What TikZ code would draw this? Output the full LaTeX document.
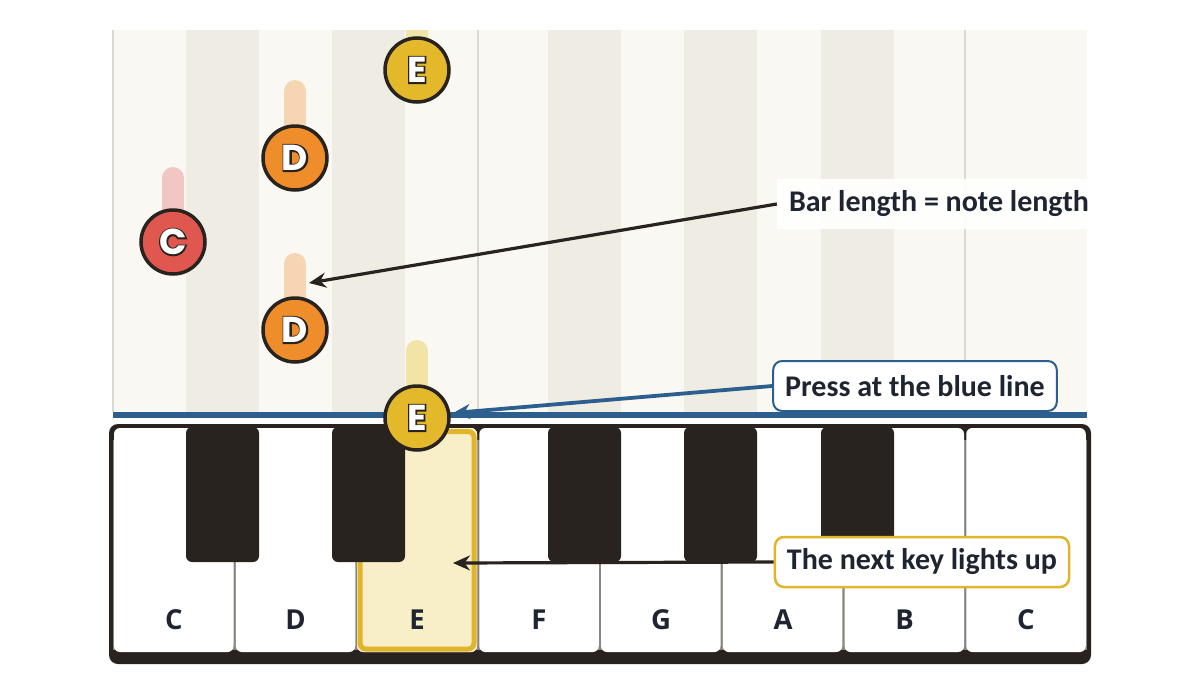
\documentclass[tikz,border=0pt]{standalone}
\usepackage{fontspec}
\setmainfont{Carlito}
\newfontfamily\notefont{Poppins}
\newfontfamily\notefontthick{Poppins}[FakeBold=8]
\newfontfamily\keyfont{Open Sans}
\usetikzlibrary{arrows.meta}
\definecolor{hwbg}{HTML}{FAF8F3}
\definecolor{stripe}{HTML}{EFECE4}
\definecolor{laneln}{HTML}{DDD9D0}
\definecolor{hitblue}{HTML}{2D5F8E}
\definecolor{nred}{HTML}{E0574F}
\definecolor{bred}{HTML}{F2C6C2}
\definecolor{norange}{HTML}{EF8D2A}
\definecolor{borange}{HTML}{F6D6B2}
\definecolor{nyellow}{HTML}{E3B82A}
\definecolor{byellow}{HTML}{F2E4A6}
\definecolor{inkdark}{HTML}{28231F}
\definecolor{litfill}{HTML}{F8EEC8}
\definecolor{gold}{HTML}{E0B52B}
\definecolor{txt}{HTML}{1E2430}
\definecolor{sepgrey}{HTML}{8B867F}
\tikzset{
  notecirc/.style={circle, draw=inkdark, line width=3.5pt, minimum size=64pt, inner sep=0pt},
  notebar/.style={line width=22pt, line cap=round},
  keylbl/.style={font=\keyfont\bfseries\fontsize{27.5}{27.5}\selectfont, text=txt},
  callout/.style={font=\bfseries\fontsize{30}{30}\selectfont, text=txt, fill=white, inner xsep=12pt, minimum height=50pt, rounded corners=9pt},
  arrowblack/.style={draw=inkdark, line width=3.2pt, -{Stealth[length=17pt,width=15pt]}},
  arrowblue/.style={draw=hitblue, line width=3.8pt, -{Stealth[length=17pt,width=15pt]}},
}
\newcommand{\olet}[1]{\fontsize{36}{36}\selectfont\makebox[0pt][c]{\notefontthick\bfseries\textcolor{inkdark}{#1}}\makebox[0pt][c]{\notefont\bfseries\textcolor{white}{#1}}}
\begin{document}
\begin{tikzpicture}[x=1pt,y=-1pt]
\useasboundingbox[fill=white] (0,0) rectangle (1200,699);
% note highway
\fill[hwbg] (113,30) rectangle (1087,412);
\foreach \a in {186,332,548,684,821} \fill[stripe] (\a,30) rectangle ++(73,382);
\foreach \a in {113,478,965} \draw[laneln, line width=1.2pt] (\a,30) -- (\a,412);
% bars (clipped to highway)
\begin{scope}
\clip (113,30) rectangle (1087,412);
\draw[notebar, bred] (173,178) -- (173,242);
\draw[notebar, borange] (295,91) -- (295,158);
\draw[notebar, byellow] (417,20) -- (417,70);
\draw[notebar, borange] (295,264) -- (295,330);
\draw[notebar, byellow] (417,351) -- (417,418);
\end{scope}
% keyboard
\fill[inkdark, rounded corners=9pt] (109,424) rectangle (1091,664);
\fill[sepgrey] (113,440) rectangle (1087,650);
\foreach \i in {0,...,7} {
  \fill[white, rounded corners=6pt] ({113+\i*121.75+1},428) rectangle ({113+\i*121.75+120.5},652);
}
\fill[litfill, rounded corners=6pt] (357,428) rectangle (477,652);
\draw[gold, line width=5pt, rounded corners=6pt] (360,431.5) rectangle (474,649);
\foreach \a in {186,332,548,684,821} \fill[inkdark, rounded corners=6pt] (\a,427) rectangle ++(73,135);
% key labels
\node[keylbl] (kc1) at (174,620) {C};
\node[keylbl] (kd) at (295.5,620) {D};
\node[keylbl] (ke) at (417,620) {E};
\node[keylbl] (kf) at (539,620) {F};
\node[keylbl] (kg) at (661,620) {G};
\node[keylbl] (ka) at (783,620) {A};
\node[keylbl] (kb) at (904.5,620) {B};
\node[keylbl] (kc2) at (1026,620) {C};
% hit line
\draw[hitblue, line width=6pt] (113,415) -- (1087,415);
% notes
\node[notecirc, fill=nred] (nc) at (173,242) {\olet{C}};
\node[notecirc, fill=norange] (nd1) at (295,158) {\olet{D}};
\node[notecirc, fill=nyellow] (ne1) at (417,70) {\olet{E}};
\node[notecirc, fill=norange] (nd2) at (295,330) {\olet{D}};
\node[notecirc, fill=nyellow] (ne2) at (417,418) {\olet{E}};
% callouts
\node[callout, fill opacity=0.9, text opacity=1, rounded corners=0pt] (cbar) at (939,204) {Bar length = note length};
\node[callout, draw=hitblue, line width=2pt] (cpress) at (915,386) {Press at the blue line};
\node[callout, draw=gold, line width=2.5pt] (cnext) at (922,562) {The next key lights up};
\coordinate (dbar) at (309,283);
\coordinate (hitpt) at (453,413);
\coordinate (litkey) at (453,563);
\draw[arrowblack] (cbar.west) -- (dbar);
\draw[arrowblue] (cpress.west) -- (hitpt);
\draw[arrowblack] (cnext.west) -- (litkey);
\end{tikzpicture}
\end{document}
